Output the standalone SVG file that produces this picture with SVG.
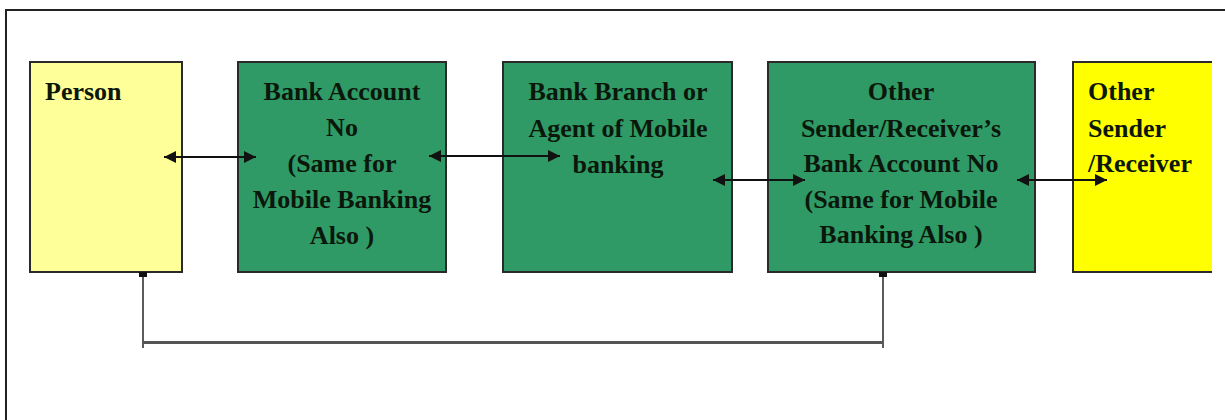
<svg xmlns="http://www.w3.org/2000/svg" width="1225" height="420" viewBox="0 0 1225 420">
  <style>
    .lbl { font-family: "Liberation Serif", "Times New Roman", serif; font-weight: bold; font-size: 26px; fill: #0b170b; }
    .mid { text-anchor: middle; }
    .box { stroke: #2a2a2a; stroke-width: 2; }
    .green { fill: #2f9a66; }
    .arrow { stroke: #111; stroke-width: 2.2; fill: none; marker-start: url(#head); marker-end: url(#head); }
    .link { stroke: #333; stroke-width: 1.6; fill: none; }
  </style>
  <defs>
    <marker id="head" viewBox="0 0 10 10" refX="10" refY="5" markerWidth="5.5" markerHeight="5.5" orient="auto-start-reverse" markerUnits="strokeWidth">
      <path d="M0,0 L10,5 L0,10 Z" fill="#111"/>
    </marker>
  </defs>

  <rect width="1225" height="420" fill="#ffffff"/>
  <!-- outer frame -->
  <path d="M6,430 L6,10 L1235,10" fill="none" stroke="#222" stroke-width="2"/>

  <g id="person">
    <rect class="box" x="30" y="62" width="152" height="210" fill="#ffff99"/>
    <text class="lbl" x="45" y="100">Person</text>
  </g>

  <g id="bank-account">
    <rect class="box green" x="238" y="62" width="208" height="210"/>
    <text class="lbl mid" x="342" y="100">Bank Account</text>
    <text class="lbl mid" x="342" y="136">No</text>
    <text class="lbl mid" x="342" y="172">(Same for</text>
    <text class="lbl mid" x="342" y="208">Mobile Banking</text>
    <text class="lbl mid" x="342" y="244">Also )</text>
  </g>

  <g id="bank-branch">
    <rect class="box green" x="503" y="62" width="229" height="210"/>
    <text class="lbl mid" x="618" y="100">Bank Branch or</text>
    <text class="lbl mid" x="618" y="137">Agent of Mobile</text>
    <text class="lbl mid" x="618" y="173">banking</text>
  </g>

  <g id="other-account">
    <rect class="box green" x="768" y="62" width="267" height="210"/>
    <text class="lbl mid" x="901" y="100">Other</text>
    <text class="lbl mid" x="901" y="137">Sender/Receiver’s</text>
    <text class="lbl mid" x="901" y="172">Bank Account No</text>
    <text class="lbl mid" x="901" y="208">(Same for Mobile</text>
    <text class="lbl mid" x="901" y="243">Banking Also )</text>
  </g>

  <g id="other-party">
    <rect x="1073" y="62" width="139" height="210" fill="#ffff00"/>
    <path d="M1212,62 L1073,62 L1073,272 L1212,272" fill="none" stroke="#2a2a2a" stroke-width="2"/>
    <text class="lbl" x="1088" y="100">Other</text>
    <text class="lbl" x="1088" y="137">Sender</text>
    <text class="lbl" x="1088" y="172">/Receiver</text>
  </g>

  <g id="connectors">
    <line class="arrow" x1="164" y1="157" x2="256" y2="157"/>
    <line class="arrow" x1="429" y1="156" x2="560" y2="156"/>
    <line class="arrow" x1="713" y1="180" x2="805" y2="180"/>
    <line class="arrow" x1="1017" y1="180" x2="1107" y2="180"/>
    <!-- lower link between person and other account -->
    <rect x="139" y="272" width="8" height="5" fill="#111"/>
    <rect x="879" y="272" width="8" height="5" fill="#111"/>
    <path class="link" d="M143,277 L143,348"/>
    <path class="link" d="M883,277 L883,348"/>
    <line x1="143" y1="342.5" x2="883" y2="342.5" stroke="#555" stroke-width="3"/>
  </g>
</svg>
